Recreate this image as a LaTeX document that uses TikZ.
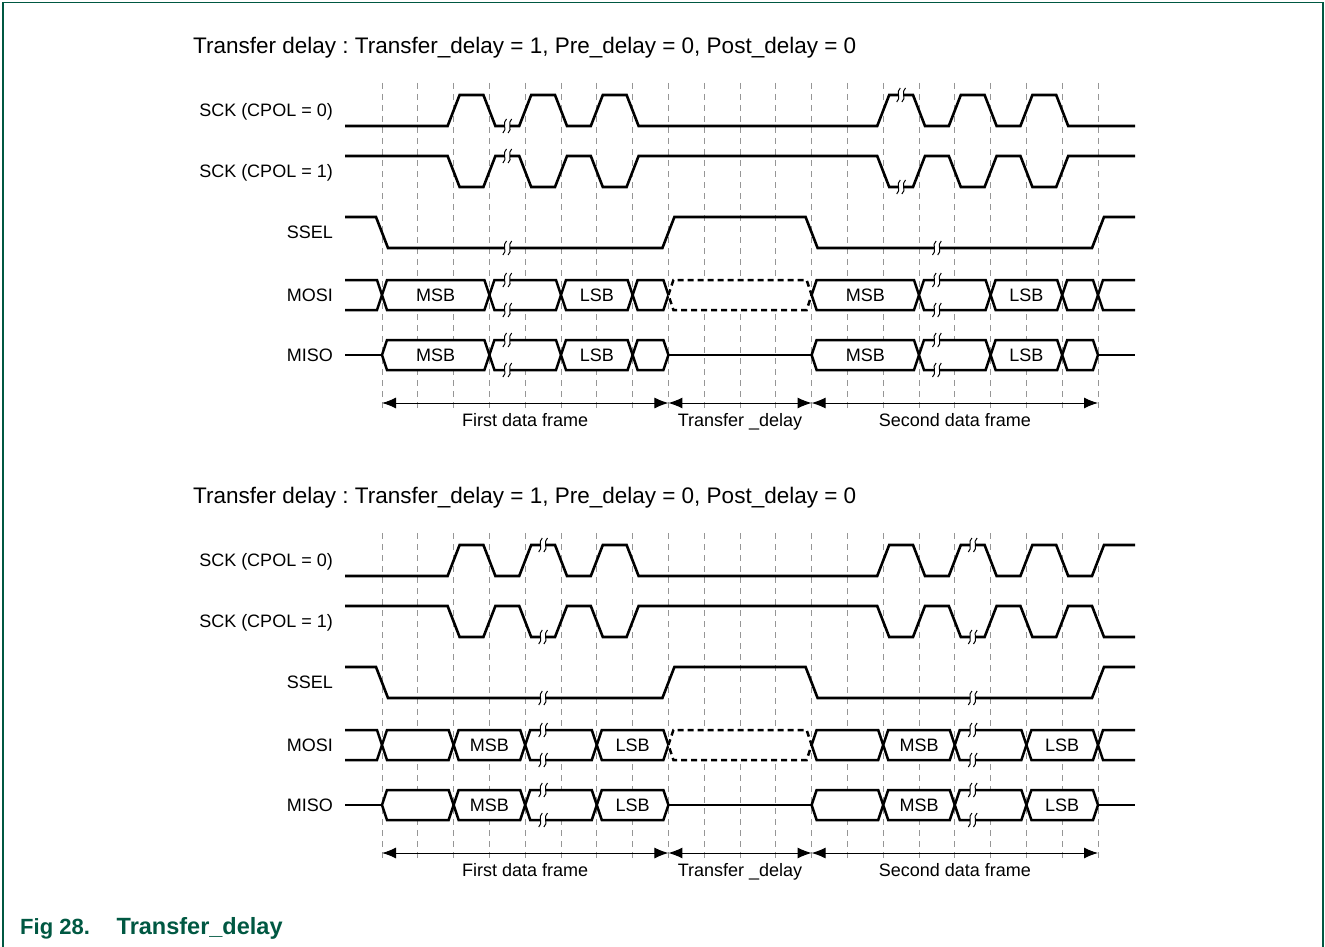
\documentclass[tikz,border=0pt]{standalone}
\usepackage{fontspec}
\setmainfont{Liberation Sans}
\usetikzlibrary{arrows.meta}
\definecolor{figgreen}{RGB}{0,88,66}
\definecolor{gridgray}{RGB}{150,150,150}
\frenchspacing

\newcommand\busseg[4][]{%
  \draw[bus,#1] ({gx(#2)},#4) -- ({gx(#2)+5},{#4-15}) -- ({gx(#3)-5},{#4-15}) -- ({gx(#3)},#4) -- ({gx(#3)-5},{#4+15}) -- ({gx(#2)+5},{#4+15}) -- cycle;}
\newcommand\busstart[1]{%
  \draw[bus] (345,{#1-15}) -- ({gx(0)-5},{#1-15}) -- ({gx(0)},#1) -- ({gx(0)-5},{#1+15}) -- (345,{#1+15});}
\newcommand\busend[1]{%
  \draw[bus] (1135,{#1-15}) -- ({gx(20)+5},{#1-15}) -- ({gx(20)},#1) -- ({gx(20)+5},{#1+15}) -- (1135,{#1+15});}

\newcommand\commonparts[3]{%
  \foreach \k in {0,...,20} \draw[gridln] ({gx(\k)},83) -- ({gx(\k)},410);
  \node[ttl, anchor=base west] (title#1) at (193,53.5) {Transfer delay : Transfer\_delay = 1, Pre\_delay = 0, Post\_delay = 0};
  \node[lbl, anchor=base east] (lsck0#1) at (333,116.5) {SCK (CPOL = 0)};
  \node[lbl, anchor=base east] (lsck1#1) at (333,177.5) {SCK (CPOL = 1)};
  \node[lbl, anchor=base east] (lssel#1) at (333,238.5) {SSEL};
  \node[lbl, anchor=base east] (lmosi#1) at (333,301.5) {MOSI};
  \node[lbl, anchor=base east] (lmiso#1) at (333,361.5) {MISO};
  \draw[sig] (345,217) -- ({gx(0)-6},217) -- ({gx(0)+6},248) -- ({gx(8)-6},248) -- ({gx(8)+6},217)
     -- ({gx(12)-6},217) -- ({gx(12)+6},248) -- ({gx(20)-6},248) -- ({gx(20)+6},217) -- (1135,217);
  \pic at ({gx(#2)},248) {brk};
  \pic at ({gx(#3)},248) {brk};
  \draw[sig] (345,355) -- ({gx(0)},355);
  \draw[sig] ({gx(8)},355) -- ({gx(12)},355);
  \draw[sig] ({gx(20)},355) -- (1135,355);
  \coordinate (a0#1) at ({gx(0)},403);
  \coordinate (a8#1) at ({gx(8)},403);
  \coordinate (a12#1) at ({gx(12)},403);
  \coordinate (a20#1) at ({gx(20)},403);
  \draw[dim] (a0#1) -- (a8#1);
  \draw[dim] (a8#1) -- (a12#1);
  \draw[dim] (a12#1) -- (a20#1);
  \node[lbl, anchor=base] (first#1) at ({(gx(0)+gx(8))/2},426.5) {First data frame};
  \node[lbl, anchor=base] (delay#1) at ({(gx(8)+gx(12))/2},426.5) {Transfer \_delay};
  \node[lbl, anchor=base] (second#1) at ({(gx(12)+gx(20))/2},426.5) {Second data frame};
}

\begin{document}
\begin{tikzpicture}[x=1pt,y=-1pt,
  declare function={gx(\k)=382+35.8*\k;},
  sig/.style={line width=2.6pt, draw=black},
  bus/.style={line width=2.5pt, draw=black, fill=white},
  gridln/.style={draw=gridgray, line width=0.9pt, dash pattern=on 6pt off 5pt},
  lbl/.style={font=\fontsize{18}{21}\selectfont, inner sep=0pt},
  ttl/.style={font=\fontsize{22.5}{27}\selectfont, inner sep=0pt},
  dim/.style={line width=1pt, {Latex[length=14pt,width=11pt]}-{Latex[length=14pt,width=11pt]}},
  brk/.pic={
    \fill[white] (-2.6,-3.5) rectangle (2.6,3.5);
    \foreach \dx in {-2.6,2.6}
      \draw[line width=1pt] ({\dx+1.8},-7) .. controls ({\dx-3},-3.5) and ({\dx+3},3.5) .. ({\dx-1.8},7);
  }
]
\useasboundingbox (0,0) rectangle (1325,947);
\fill[white] (0,0) rectangle (1325,947);
\draw[figgreen, line width=1.5pt] (3,947) -- (3,2.5) -- (1323,2.5) -- (1323,947);

% ---------------- top diagram ----------------
\begin{scope}
\commonparts{t}{3.5}{15.5}
\draw[sig] (345,126) \foreach \a/\b in {2/3,4/5,6/7,14/15,16/17,18/19}{
   -- ({gx(\a)-6},126) -- ({gx(\a)+6},95) -- ({gx(\b)-6},95) -- ({gx(\b)+6},126)} -- (1135,126);
\draw[sig] (345,156) \foreach \a/\b in {2/3,4/5,6/7,14/15,16/17,18/19}{
   -- ({gx(\a)-6},156) -- ({gx(\a)+6},187) -- ({gx(\b)-6},187) -- ({gx(\b)+6},156)} -- (1135,156);
\pic at ({gx(3.5)},126) {brk};
\pic at ({gx(14.5)},95) {brk};
\pic at ({gx(3.5)},156) {brk};
\pic at ({gx(14.5)},187) {brk};
% MOSI
\busstart{295}
\busseg{0}{3}{295}
\busseg{3}{5}{295}
\busseg{5}{7}{295}
\busseg{7}{8}{295}
\busseg[dash pattern=on 6pt off 4pt]{8}{12}{295}
\busseg{12}{15}{295}
\busseg{15}{17}{295}
\busseg{17}{19}{295}
\busseg{19}{20}{295}
\busend{295}
% MISO
\busseg{0}{3}{355}
\busseg{3}{5}{355}
\busseg{5}{7}{355}
\busseg{7}{8}{355}
\busseg{12}{15}{355}
\busseg{15}{17}{355}
\busseg{17}{19}{355}
\busseg{19}{20}{355}
\foreach \p in {3.5,15.5}{
  \foreach \yy in {280,310,340,370} \pic at ({gx(\p)},\yy) {brk};
}
\node[lbl, anchor=base] (msb1t) at ({(gx(0)+gx(3))/2},301.5) {MSB};
\node[lbl, anchor=base] (lsb1t) at ({(gx(5)+gx(7))/2},301.5) {LSB};
\node[lbl, anchor=base] (msb2t) at ({(gx(12)+gx(15))/2},301.5) {MSB};
\node[lbl, anchor=base] (lsb2t) at ({(gx(17)+gx(19))/2},301.5) {LSB};
\node[lbl, anchor=base] (msb3t) at ({(gx(0)+gx(3))/2},361.5) {MSB};
\node[lbl, anchor=base] (lsb3t) at ({(gx(5)+gx(7))/2},361.5) {LSB};
\node[lbl, anchor=base] (msb4t) at ({(gx(12)+gx(15))/2},361.5) {MSB};
\node[lbl, anchor=base] (lsb4t) at ({(gx(17)+gx(19))/2},361.5) {LSB};
\end{scope}

% ---------------- bottom diagram ----------------
\begin{scope}[yshift=-450pt]
\commonparts{b}{4.5}{16.5}
\draw[sig] (345,126) \foreach \a/\b in {2/3,4/5,6/7,14/15,16/17,18/19}{
   -- ({gx(\a)-6},126) -- ({gx(\a)+6},95) -- ({gx(\b)-6},95) -- ({gx(\b)+6},126)}
   -- ({gx(20)-6},126) -- ({gx(20)+6},95) -- (1135,95);
\draw[sig] (345,156) \foreach \a/\b in {2/3,4/5,6/7,14/15,16/17,18/19}{
   -- ({gx(\a)-6},156) -- ({gx(\a)+6},187) -- ({gx(\b)-6},187) -- ({gx(\b)+6},156)}
   -- ({gx(20)-6},156) -- ({gx(20)+6},187) -- (1135,187);
\pic at ({gx(4.5)},95) {brk};
\pic at ({gx(16.5)},95) {brk};
\pic at ({gx(4.5)},187) {brk};
\pic at ({gx(16.5)},187) {brk};
% MOSI
\busstart{295}
\busseg{0}{2}{295}
\busseg{2}{4}{295}
\busseg{4}{6}{295}
\busseg{6}{8}{295}
\busseg[dash pattern=on 6pt off 4pt]{8}{12}{295}
\busseg{12}{14}{295}
\busseg{14}{16}{295}
\busseg{16}{18}{295}
\busseg{18}{20}{295}
\busend{295}
% MISO
\busseg{0}{2}{355}
\busseg{2}{4}{355}
\busseg{4}{6}{355}
\busseg{6}{8}{355}
\busseg{12}{14}{355}
\busseg{14}{16}{355}
\busseg{16}{18}{355}
\busseg{18}{20}{355}
\foreach \p in {4.5,16.5}{
  \foreach \yy in {280,310,340,370} \pic at ({gx(\p)},\yy) {brk};
}
\node[lbl, anchor=base] (msb1b) at ({(gx(2)+gx(4))/2},301.5) {MSB};
\node[lbl, anchor=base] (lsb1b) at ({(gx(6)+gx(8))/2},301.5) {LSB};
\node[lbl, anchor=base] (msb2b) at ({(gx(14)+gx(16))/2},301.5) {MSB};
\node[lbl, anchor=base] (lsb2b) at ({(gx(18)+gx(20))/2},301.5) {LSB};
\node[lbl, anchor=base] (msb3b) at ({(gx(2)+gx(4))/2},361.5) {MSB};
\node[lbl, anchor=base] (lsb3b) at ({(gx(6)+gx(8))/2},361.5) {LSB};
\node[lbl, anchor=base] (msb4b) at ({(gx(14)+gx(16))/2},361.5) {MSB};
\node[lbl, anchor=base] (lsb4b) at ({(gx(18)+gx(20))/2},361.5) {LSB};
\end{scope}

% caption
\node[anchor=base west, inner sep=0pt, text=figgreen, font=\fontsize{22}{26}\selectfont\bfseries] (capnum) at (20,934) {Fig 28.};
\node[anchor=base west, inner sep=0pt, text=figgreen, font=\fontsize{23.5}{27}\selectfont\bfseries] (captext) at (116.5,934) {Transfer\_delay};
\end{tikzpicture}
\end{document}
